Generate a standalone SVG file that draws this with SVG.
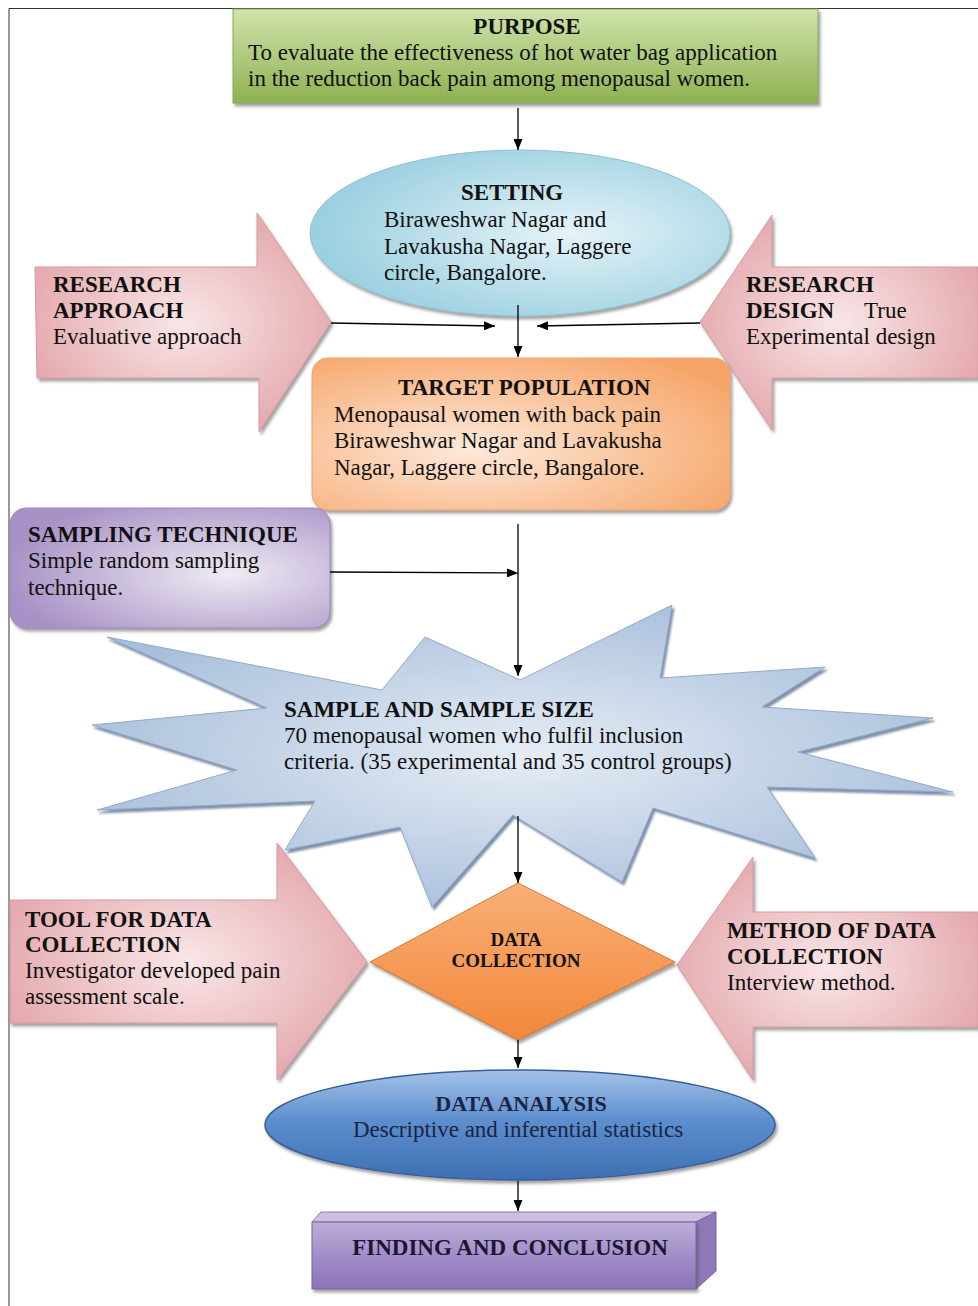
<svg xmlns="http://www.w3.org/2000/svg" width="978" height="1306" viewBox="0 0 978 1306">
<style>
text{font-family:"Liberation Serif","Times New Roman",serif;font-size:23px;fill:#111}
.b{font-weight:bold}
.c{text-anchor:middle}
.ln{stroke:#000;stroke-width:1.3;fill:none;marker-end:url(#ah)}
.pink{fill:url(#gPink);stroke:#d59ba0;stroke-width:1;filter:url(#sh)}
</style>
<defs>
<marker id="ah" markerWidth="11" markerHeight="9" refX="11" refY="4.5" orient="auto" markerUnits="userSpaceOnUse"><path d="M0,0 L11,4.5 L0,9 z" fill="#000"/></marker>
<filter id="sh" x="-10%" y="-10%" width="125%" height="130%"><feDropShadow dx="2" dy="3" stdDeviation="1.5" flood-color="#555" flood-opacity="0.55"/></filter>
<filter id="shs" x="-10%" y="-10%" width="125%" height="130%"><feDropShadow dx="2" dy="3" stdDeviation="1" flood-color="#5e7594" flood-opacity="0.8"/></filter>
<linearGradient id="gPurpose" x1="0" y1="0" x2="0" y2="1"><stop offset="0" stop-color="#d0e3ab"/><stop offset="1" stop-color="#8fb151"/></linearGradient>
<radialGradient id="gSetting" cx="0.62" cy="0.5" r="0.6"><stop offset="0" stop-color="#e6f3f8"/><stop offset="1" stop-color="#9bd0e0"/></radialGradient>
<radialGradient id="gTarget" cx="0.38" cy="0.6" r="0.75"><stop offset="0" stop-color="#fde9da"/><stop offset="1" stop-color="#f6a467"/></radialGradient>
<radialGradient id="gSampling" cx="0.68" cy="0.55" r="0.7"><stop offset="0" stop-color="#efebf3"/><stop offset="1" stop-color="#a891c6"/></radialGradient>
<radialGradient id="gPink" cx="0.5" cy="0.5" r="0.6"><stop offset="0" stop-color="#f9e6e7"/><stop offset="1" stop-color="#e2a3a8"/></radialGradient>
<radialGradient id="gStar" cx="0.5" cy="0.5" r="0.55"><stop offset="0" stop-color="#e6edf5"/><stop offset="1" stop-color="#a8bfdb"/></radialGradient>
<linearGradient id="gDiamond" x1="0" y1="0" x2="0" y2="1"><stop offset="0" stop-color="#f9b077"/><stop offset="1" stop-color="#f2873a"/></linearGradient>
<linearGradient id="gAnalysis" x1="0" y1="0" x2="0" y2="1"><stop offset="0" stop-color="#a4c2e8"/><stop offset="0.45" stop-color="#5d8fcf"/><stop offset="1" stop-color="#3e6fb2"/></linearGradient>
<linearGradient id="gFindFront" x1="0" y1="0" x2="0" y2="1"><stop offset="0" stop-color="#bcaed8"/><stop offset="0.5" stop-color="#a28ec9"/><stop offset="1" stop-color="#8c72b7"/></linearGradient>
</defs>
<rect width="978" height="1306" fill="#fff"/>
<path d="M9,1306 L9,8.5 L978,8.5" fill="none" stroke="#333" stroke-width="1"/>

<g id="research-approach">
<path class="pink" d="M35,267 L257,267 L257,213 L331,322 L259,432 L259,378 L37,378 Z"/>
<text class="b" x="53" y="292">RESEARCH</text>
<text class="b" x="53" y="318">APPROACH</text>
<text x="53" y="344">Evaluative approach</text>
</g>

<g id="research-design">
<path class="pink" d="M978,267 L772,267 L772,215 L700,322 L772,430 L772,378 L978,378 Z"/>
<text class="b" x="746" y="292">RESEARCH</text>
<text x="746" y="318"><tspan class="b">DESIGN</tspan><tspan x="864">True</tspan></text>
<text x="746" y="344">Experimental design</text>
</g>

<g id="tool-for-data-collection">
<path class="pink" d="M10,900 L277,900 L277,843 L367,962 L277,1080 L277,1023 L10,1023 Z"/>
<text class="b" x="25" y="927">TOOL FOR DATA</text>
<text class="b" x="25" y="952">COLLECTION</text>
<text x="25" y="978">Investigator developed pain</text>
<text x="25" y="1004">assessment scale.</text>
</g>

<g id="method-of-data-collection">
<path class="pink" d="M978,912 L753,912 L753,857 L677,965 L753,1080 L753,1027 L978,1027 Z"/>
<text class="b" x="727" y="938">METHOD OF DATA</text>
<text class="b" x="727" y="964">COLLECTION</text>
<text x="727" y="990">Interview method.</text>
</g>

<g id="purpose">
<rect x="233" y="9" width="585" height="94" fill="url(#gPurpose)" stroke="#8aa95a" stroke-width="1" filter="url(#sh)"/>
<text class="b c" x="527" y="34">PURPOSE</text>
<text x="248" y="60">To evaluate the effectiveness of hot water bag application</text>
<text x="248" y="86">in the reduction back pain among menopausal women.</text>
</g>

<g id="setting">
<ellipse cx="520" cy="233" rx="210" ry="83" fill="url(#gSetting)" stroke="#8cc3d4" stroke-width="1" filter="url(#sh)"/>
<text class="b" x="461" y="200">SETTING</text>
<text x="384" y="227">Biraweshwar Nagar and</text>
<text x="384" y="254">Lavakusha Nagar, Laggere</text>
<text x="384" y="280">circle, Bangalore.</text>
</g>

<g id="target-population">
<rect x="312" y="358" width="418" height="152" rx="16" fill="url(#gTarget)" stroke="#f0a36a" stroke-width="1" filter="url(#sh)"/>
<text class="b" x="398" y="395">TARGET POPULATION</text>
<text x="334" y="422">Menopausal women with back pain</text>
<text x="334" y="448">Biraweshwar Nagar and Lavakusha</text>
<text x="334" y="475">Nagar, Laggere circle, Bangalore.</text>
</g>

<g id="sampling-technique">
<rect x="10" y="508" width="320" height="120" rx="16" fill="url(#gSampling)" stroke="#9c87bd" stroke-width="1" filter="url(#sh)"/>
<text class="b" x="28" y="542">SAMPLING TECHNIQUE</text>
<text x="28" y="568">Simple random sampling</text>
<text x="28" y="595">technique.</text>
</g>

<g id="sample-and-sample-size">
<path d="M107,637 L382,690 L425,637 L520,680 L672,605 L660,678 L825,667 L762,707 L933,718 L798,752 L953,792 L767,787 L815,858 L653,808 L622,882 L513,815 L432,907 L400,827 L285,850 L315,801 L97,810 L237,770 L92,725 L267,708 Z" fill="url(#gStar)" stroke="#93a9c6" stroke-width="1" filter="url(#shs)"/>
<text class="b" x="284" y="717">SAMPLE AND SAMPLE SIZE</text>
<text x="284" y="743">70 menopausal women who fulfil inclusion</text>
<text x="284" y="769">criteria. (35 experimental and 35 control groups)</text>
</g>

<g id="data-collection">
<path d="M518,883 L675,962 L518,1040 L370,962 Z" fill="url(#gDiamond)" stroke="#d9752c" stroke-width="1" filter="url(#sh)"/>
<text class="b c" x="516" y="946" style="font-size:19px">DATA</text>
<text class="b c" x="516" y="967" style="font-size:19px">COLLECTION</text>
</g>

<g id="data-analysis">
<ellipse cx="520" cy="1125" rx="255" ry="55" fill="url(#gAnalysis)" stroke="#365f99" stroke-width="1.5" filter="url(#sh)"/>
<text class="b c" x="521" y="1111" style="fill:#1b2440;font-size:22px">DATA ANALYSIS</text>
<text class="c" x="518" y="1137" style="fill:#1b2440">Descriptive and inferential statistics</text>
</g>

<g id="finding-and-conclusion">
<path d="M312,1222 L321,1212 L716,1212 L696,1222 Z" fill="#cbbfe2" stroke="#8d78b4" stroke-width="1"/>
<path d="M696,1222 L716,1212 L716,1271 L696,1289 Z" fill="#8f78b8" stroke="#7a63a3" stroke-width="1"/>
<rect x="312" y="1222" width="384" height="67" fill="url(#gFindFront)" stroke="#7a63a3" stroke-width="1" filter="url(#sh)"/>
<text class="b c" x="510" y="1255" style="fill:#1d1633">FINDING AND CONCLUSION</text>
</g>

<g id="connectors">
<line class="ln" x1="518" y1="108" x2="518" y2="150"/>
<line class="ln" x1="331" y1="323" x2="495" y2="326"/>
<line class="ln" x1="700" y1="323" x2="537" y2="326"/>
<line class="ln" x1="518" y1="305" x2="518" y2="357"/>
<line class="ln" x1="518" y1="524" x2="518" y2="676"/>
<line class="ln" x1="330" y1="572" x2="518" y2="573"/>
<line class="ln" x1="518" y1="816" x2="518" y2="883"/>
<line class="ln" x1="518" y1="1040" x2="518" y2="1068"/>
<line class="ln" x1="518" y1="1181" x2="518" y2="1211"/>
</g>
</svg>
